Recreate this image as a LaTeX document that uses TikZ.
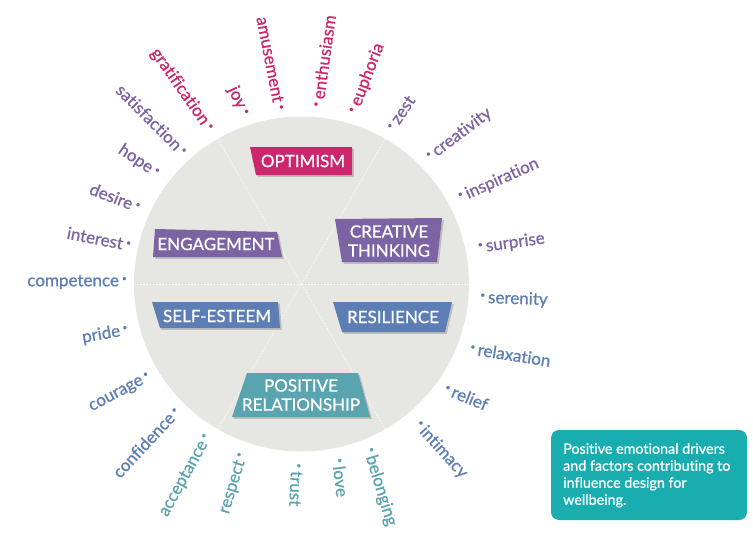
\documentclass[tikz,border=0pt]{standalone}
\usepackage{fontspec}
\setmainfont{Lato}[FakeBold=0.8,Ligatures=NoCommon]
\definecolor{magc}{RGB}{204,38,108}
\definecolor{purc}{RGB}{124,99,163}
\definecolor{bluc}{RGB}{92,126,181}
\definecolor{tealc}{RGB}{90,164,175}
\definecolor{infoc}{RGB}{26,173,176}
\definecolor{circc}{RGB}{230,230,226}
\definecolor{shadc}{RGB}{190,190,186}
\newcommand\wf{\fontsize{17}{20}\selectfont}
\newcommand\boxf{\fontsize{17}{19}\selectfont}
\newcommand\dt{\raisebox{0.3em}{\scalebox{0.5}{•}}}
\newcommand\ds{\hspace{3pt}}
\newcommand\platebox[5]{\fill[shadc,shift={(1.8,1.8)}] #2 -- #3 -- #4 -- #5 -- cycle;
  \fill[#1] #2 -- #3 -- #4 -- #5 -- cycle;}
\begin{document}
\begin{tikzpicture}[x=1pt,y=-1pt,
  wordL/.style={anchor=east,inner sep=0pt,font=\wf},
  wordR/.style={anchor=west,inner sep=0pt,font=\wf},
  boxtext/.style={text=white,font=\boxf,align=center,inner sep=0pt},
  divider/.style={white,line width=0.6pt,dash pattern=on 1.6pt off 1.6pt}]
\useasboundingbox (0,0) rectangle (753,538);
\coordinate (C) at (301.5,284);
\fill[circc] (C) circle[radius=167.5];
\foreach \a in {0,60,120,180,240,300} \draw[divider] (C) -- ++(\a:167.5);
% boxes
\platebox{magc}{(250,147)}{(352,147)}{(352,175)}{(256,175)}
\platebox{purc}{(155,229)}{(277,232)}{(282,257)}{(153,257)}
\platebox{purc}{(335,219)}{(442,218)}{(437,262)}{(342,262)}
\platebox{bluc}{(152,302)}{(278,302)}{(280,328)}{(160,328)}
\platebox{bluc}{(333,302)}{(452,302)}{(445,332)}{(342,332)}
\platebox{tealc}{(247,373)}{(358,373)}{(370,417)}{(232,417)}
\node[boxtext] (optimism) at (303,161) {OPTIMISM};
\node[boxtext] (engagement) at (216,244) {ENGAGEMENT};
\node[boxtext] (creative) at (389,241) {CREATIVE\\THINKING};
\node[boxtext] (selfesteem) at (217,316) {SELF-ESTEEM};
\node[boxtext] (resilience) at (393,317) {RESILIENCE};
\node[boxtext] (positive) at (301,395) {POSITIVE\\RELATIONSHIP};
% left words
\node[wordL,magc,rotate=-55] (gratification) at (210,130) {gratification\ds\dt};
\node[wordL,magc,rotate=-65] (joy) at (245,115) {joy\ds\dt};
\node[wordL,magc,rotate=-79] (amusement) at (280,110) {amusement\ds\dt};
\node[wordL,purc,rotate=-45] (satisfaction) at (185,153) {satisfaction\ds\dt};
\node[wordL,purc,rotate=-34] (hope) at (158,174) {hope\ds\dt};
\node[wordL,purc,rotate=-21] (desire) at (140,207) {desire\ds\dt};
\node[wordL,purc,rotate=-11] (interest) at (131,245) {interest\ds\dt};
\node[wordL,bluc,rotate=0] (competence) at (127,282) {competence\ds\dt};
\node[wordL,bluc,rotate=10] (pride) at (128,330) {pride\ds\dt};
\node[wordL,bluc,rotate=28] (courage) at (150,377) {courage\ds\dt};
\node[wordL,bluc,rotate=47] (confidence) at (177,409) {confidence\ds\dt};
\node[wordL,tealc,rotate=61] (acceptance) at (208,435) {acceptance\ds\dt};
\node[wordL,tealc,rotate=73] (respect) at (243,453) {respect\ds\dt};
% right words
\node[wordR,magc,rotate=82] (enthusiasm) at (317,107) {\dt\ds enthusiasm};
\node[wordR,magc,rotate=69] (euphoria) at (353,113) {\dt\ds euphoria};
\node[wordR,purc,rotate=56] (zest) at (390,129) {\dt\ds zest};
\node[wordR,purc,rotate=37] (creativity) at (428,158) {\dt\ds creativity};
\node[wordR,purc,rotate=24] (inspiration) at (459,198) {\dt\ds inspiration};
\node[wordR,purc,rotate=8] (surprise) at (478,248) {\dt\ds surprise};
\node[wordR,bluc,rotate=-2] (serenity) at (480,298) {\dt\ds serenity};
\node[wordR,bluc,rotate=-9] (relaxation) at (470,348) {\dt\ds relaxation};
\node[wordR,bluc,rotate=-22] (relief) at (445,388) {\dt\ds relief};
\node[wordR,bluc,rotate=-48] (intimacy) at (417,423) {\dt\ds intimacy};
\node[wordR,tealc,rotate=-73] (belonging) at (368,448) {\dt\ds belonging};
\node[wordR,tealc,rotate=-83] (love) at (338,458) {\dt\ds love};
\node[wordR,tealc,rotate=-93] (trust) at (297,463) {\dt\ds trust};
% info box
\node[fill=infoc,rounded corners=8pt,minimum width=196pt,minimum height=90pt,inner sep=0pt] (info) at (649,475) {};
\node[anchor=north west,text=white,align=left,inner sep=0pt,font=\fontsize{14.3}{17}\selectfont] (infotext) at (563,443)
  {Positive emotional drivers\\and factors contributing to\\influence design for\\wellbeing.};
\end{tikzpicture}
\end{document}
